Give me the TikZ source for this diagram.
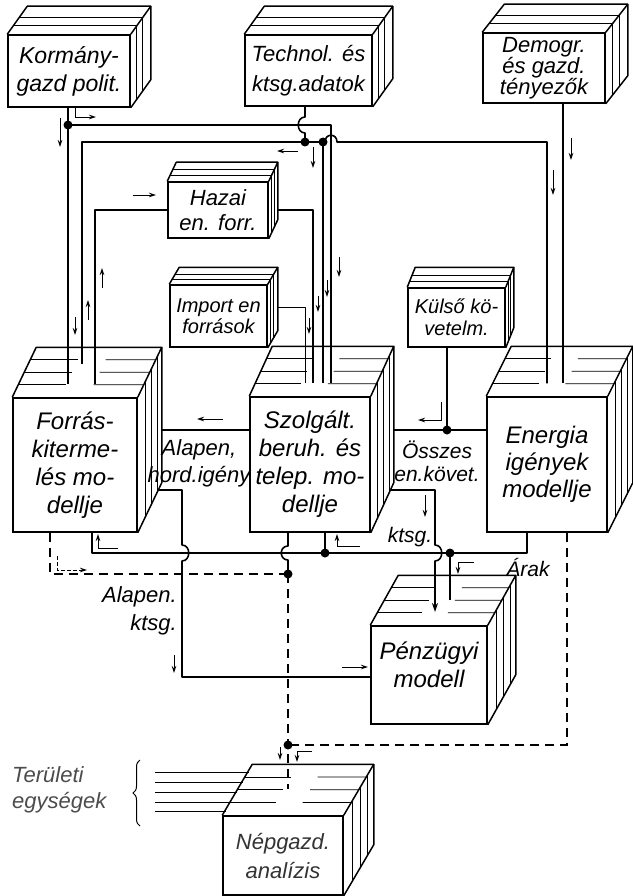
\documentclass[tikz,border=0pt]{standalone}
\usepackage{fontspec}
\setmainfont{Liberation Sans}
\usetikzlibrary{arrows.meta,calc,decorations.pathreplacing}

% stack of cards: node, depth right, depth up
\newcommand\cardstack[3]{%
  \draw[rim] (#1.north west) -- ([shift={(#2,-#3)}]#1.north west) -- ([shift={(#2,-#3)}]#1.north east)
    -- ([shift={(#2,-#3)}]#1.south east) -- (#1.south east);
  \draw[rim] (#1.north east) -- ([shift={(#2,-#3)}]#1.north east);
  \foreach \t in {0.3,0.6}{
    \draw[layer] ([shift={(\t*#2,-\t*#3)}]#1.north west) -- ([shift={(\t*#2,-\t*#3)}]#1.north east)
      -- ([shift={(\t*#2,-\t*#3)}]#1.south east);
  }
}
% model block: node, depth right, depth up
\newcommand\bigcube[3]{%
  \draw[rim] (#1.north west) -- ([shift={(#2,-#3)}]#1.north west) -- ([shift={(#2,-#3)}]#1.north east)
    -- ([shift={(#2,-#3)}]#1.south east) -- (#1.south east);
  \draw[rim] (#1.north east) -- ([shift={(#2,-#3)}]#1.north east);
  \foreach \t in {0.25,0.5,0.75}{
    \draw[layer] ($(#1.north west)+(\t*#2,-\t*#3)$) -- ($(#1.north west)!0.38!(#1.north east)+(\t*#2,-\t*#3)$);
    \draw[layer] ($(#1.north west)!0.6!(#1.north east)+(\t*#2,-\t*#3)$) -- ($(#1.north east)+(\t*#2,-\t*#3)$);
  }
  \foreach \t in {0.3,0.55,0.8}{
    \draw[layer] ($(#1.north east)+(\t*#2,-\t*#3)$) -- ($(#1.south east)+(\t*#2,-\t*#3)$);
  }
}

\begin{document}
\begin{tikzpicture}[x=1pt,y=-1pt,
    face/.style={draw,line width=1.5pt,fill=white,inner sep=0pt,align=center,font=\itshape\fontsize{24}{28}\selectfont},
    rim/.style={line width=1.5pt,line join=round},
    layer/.style={line width=0.9pt},
    wire/.style={line width=1.6pt,line join=round},
    dwire/.style={line width=1.1pt,dash pattern=on 9pt off 6pt},
    flow/.style={line width=0.9pt,-{Stealth[length=7pt,width=4.5pt]}},
    lbl/.style={inner sep=0pt,align=center,font=\itshape\fontsize{22}{27}\selectfont}]

\useasboundingbox (0,0) rectangle (632,896);

% input blocks
\node[face,minimum width=122,minimum height=72,font=\itshape\fontsize{23}{28}\selectfont] (korm) at (69,71) {Kormány-\\gazd polit.};
\node[face,minimum width=127,minimum height=71,font=\itshape\fontsize{22}{30}\selectfont] (tech) at (308.5,70.5) {Technol. és\\ktsg.adatok};
\node[face,minimum width=122,minimum height=70,font=\itshape\fontsize{22}{21}\selectfont] (demo) at (544,68) {Demogr.\\és gazd.\\tényezők};
\node[face,minimum width=100,minimum height=56,font=\itshape\fontsize{22}{25}\selectfont] (hazai) at (218,210) {Hazai\\en. forr.};
\node[face,minimum width=97,minimum height=62,font=\itshape\fontsize{20}{21}\selectfont] (imp) at (218.5,316) {Import en\\források};
\node[face,minimum width=97,minimum height=59,font=\itshape\fontsize{20}{22}\selectfont] (kuls) at (456.5,317.5) {Külső kö-\\vetelm.};

% models
\node[face,minimum width=124,minimum height=134] (forr) at (75,465) {Forrás-\\kiterme-\\lés mo-\\dellje};
\node[face,minimum width=120,minimum height=135] (szolg) at (310,464.5) {Szolgált.\\beruh. és\\telep. mo-\\dellje};
\node[face,minimum width=120,minimum height=135,font=\itshape\fontsize{24}{27}\selectfont] (ener) at (547,464.5) {Energia\\igények\\modellje};
\node[face,minimum width=116,minimum height=98] (penz) at (429,675) {Pénzügyi\\modell\\[-8pt]~};
\node[face,minimum width=120,minimum height=79,text=black!80,font=\itshape\fontsize{22}{29}\selectfont] (nepg) at (283,855.5) {Népgazd.\\analízis};

\cardstack{korm}{20}{28}
\cardstack{tech}{20}{28}
\cardstack{demo}{22}{28}
\cardstack{hazai}{9}{19}
\cardstack{imp}{10}{17}
\cardstack{kuls}{8}{20}
\bigcube{forr}{24}{50}
\bigcube{szolg}{23}{50}
\bigcube{ener}{25}{50}
\bigcube{penz}{28}{50}
\bigcube{nepg}{30}{51}

% junctions
\coordinate (jK) at (68,125);
\coordinate (jT) at (305,142);
\coordinate (jU) at (323,142);
\coordinate (jO) at (447,430);
\coordinate (jS) at (325,553);
\coordinate (jA) at (450,553);
\coordinate (jD) at (288,574);
\coordinate (jB) at (288,745);

% upper wiring
\draw[wire] (korm.south -| jK) -- ($(forr.north -| jK)+(0,-13)$);
\draw[wire] (jK) -| ($(szolg.north)+(21,-13)$);
\draw[wire] (tech.south -| jT) -- (305,117) .. controls +(-9,0) and +(-9,0) .. (305,133) -- (jT);
\draw[wire] (jT) -| ($(forr.north)+(7,-33)$);
\draw[wire] (jT) -- (jU) -- (325,142) .. controls +(0,-9) and +(0,-9) .. (337,142) -| ($(ener.north)+(0,-13)$);
\draw[wire] (jU) -- ($(szolg.north -| jU)+(0,-13)$);
\draw[wire] ($(demo.south)+(19,0)$) -- ($(ener.north)+(16,-13)$);
\draw[wire] (hazai.west) -| ($(forr.north)+(20,-13)$);
\draw[wire] ($(hazai.east)+(9,0)$) -| ($(szolg.north)+(3,-13)$);
\draw[wire,line width=1pt] ($(imp.east)+(10,-9)$) -| ($(szolg.north)+(-5,-13)$);

% middle wiring
\draw[wire] ($(forr.east)+(24,-35)$) -- ($(szolg.west)+(0,-34.5)$);
\draw[wire] ($(forr.east)+(20,25)$) -- (182,490) -- (182,545) .. controls +(9,0) and +(9,0) .. (182,561) |- ($(penz.west)+(0,2)$);
\draw[wire] ($(szolg.east)+(23,-34.5)$) -- ($(ener.west)+(0,-34.5)$);
\draw[wire] (kuls.south -| jO) -- (jO);
\draw[wire,-{Stealth[length=9pt,width=6pt]}] ($(szolg.east)+(19,25.5)$) -- (435,490) -- (435,545)
  .. controls +(9,0) and +(9,0) .. (435,561) -- (435,612);
\draw[wire] ($(ener.south)+(-20,0)$) -- (527,553) -- (92,553) -- ($(forr.south)+(17,0)$);
\draw[wire] (jS) -- (szolg.south -| jS);
\draw[wire] (jA) -- (450,600);
\draw[wire] (szolg.south -| jD) -- (288,546) .. controls +(-9,0) and +(-9,0) .. (288,560) -- (jD);

% dashed wiring
\draw[dwire] ($(forr.south)+(-25,0)$) |- (jD);
\draw[dwire] (jD) -- (jB) -- ($(nepg.north -| jB)+(0,-26)$);
\draw[dwire] ($(ener.south)+(20,0)$) |- (jB);

\foreach \p in {jK,jT,jU,jO,jS,jA,jD,jB}
  \fill (\p) circle[radius=4.5];

% flow marks
\draw[flow] (75,108) |- (96,117);
\draw[flow] (60,118) -- (60,147);
\draw[flow] (298,151) -- (277,151);
\draw[flow] (313,147) -- (313,168);
\draw[flow] (133,195) -- (156,195);
\draw[flow] (553,170) -- (553,195);
\draw[flow] (571,138) -- (571,160);
\draw[flow] (339,257) -- (339,277);
\draw[flow] (327,280) -- (327,297);
\draw[flow] (318,296) -- (318,312);
\draw[flow] (309,318) -- (309,334);
\draw[flow] (75,317) -- (75,335);
\draw[flow] (88,320) -- (88,300);
\draw[flow] (102,288) -- (102,268);
\draw[flow] (223,419) -- (197,419);
\draw[flow] (441,402) |- (418,420);
\draw[flow] (425,495) -- (425,517);
\draw[flow] (174,655) -- (174,673);
\draw[flow] (342,667) -- (368,667);
\draw[flow] (118,548) -| (98,534);
\draw[flow] (360,546) -| (337,534);
\draw[flow] (474,562) -| (458,574);
\draw[flow,dash pattern=on 4pt off 2pt] (57,556) |- (87,570);
\draw[flow] (280,747) -- (280,760);
\draw[flow] (312,751) -| (297,762);

% labels
\node[lbl] (lhord) at (199,463) {Alapen,\\hord.igény};
\node[lbl,font=\itshape\fontsize{21}{23}\selectfont] (lossz) at (437,461) {Összes\\en.követ.};
\node[lbl,font=\itshape\fontsize{21}{23}\selectfont] (lktsg) at (410,537) {ktsg.};
\node[lbl,font=\itshape\fontsize{21}{23}\selectfont] (larak) at (528,567) {Árak};
\node[lbl,align=right,anchor=east,font=\itshape\fontsize{22}{28}\selectfont] (lalap) at (177,611) {Alapen.\\ktsg.};
\node[lbl,align=left,anchor=west,text=black!70,font=\itshape\fontsize{22}{26}\selectfont] (lterul) at (12,790) {Területi\\egységek};

% regional units
\foreach \y/\x in {772/249,782/243,792/237,802/231,811/226}
  \draw[layer] (155,\y) -- (\x,\y);
\draw[line width=1pt,decorate,decoration={brace,amplitude=7pt}] (140,826) -- (140,760);

\end{tikzpicture}
\end{document}
